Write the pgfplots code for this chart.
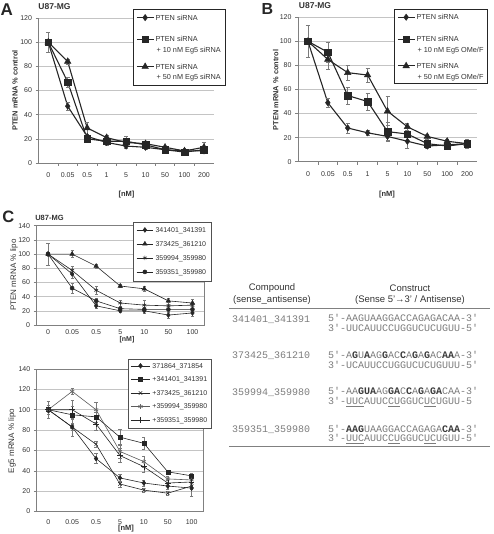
\documentclass[border=0pt]{standalone}
\usepackage{pgfplots}
\pgfplotsset{compat=1.18}
\usepackage{pgfplotstable}
\usepackage{fontspec}
\setmainfont{Liberation Sans}
\newfontfamily\monofont{Liberation Mono}
\definecolor{ln}{HTML}{262626}
\definecolor{grd}{HTML}{C4C4C4}
\definecolor{ax}{HTML}{808080}
\definecolor{txt}{HTML}{333333}
\definecolor{err}{HTML}{7A7A7A}
\definecolor{seq}{HTML}{7C7C7C}
\definecolor{seqb}{HTML}{3A3A3A}

\pgfplotstableread{
x d de s se t te
0 100 8 100 2 100 2
1 47 3 67 4 84 2
2 22 2 20 2 29 5
3 17 2 18 2 21 2
4 14 2 18 4 17 2
5 13 2 15 2 16 2
6 11 1 11 1 13 1
7 10 1 9 1 10 1
8 10 2 11 3 13 4
}\tabA

\pgfplotstableread{
x d de s se t te
0 100 13 100 2 100 2
1 49 4 91 8 85 8
2 28 4 55 7 74 6
3 24 2 50 7 72 6
4 21 3 25 8 42 12
5 17 6 23 5 29 3
6 13 2 15 3 21 2
7 14 2 13 2 17 2
8 15 3 15 3 15 4
}\tabB

\pgfplotstableread{
x a ae b be c ce e ee
0 100 15 100 2 100 2 100 2
1 72 6 100 5 77 6 52 7
2 27 4 83 3 49 5 34 4
3 20 2 55 2 31 4 23 2
4 20 3 51 4 28 7 22 3
5 14 4 34 4 27 5 22 2
6 17 4 31 5 28 4 22 4
}\tabCt

\pgfplotstableread{
x a ae b be c ce d de e ee
0 100 4 100 2 100 2 100 8 100 2
1 83 9 95 8 83 3 118 3 100 9
2 52 5 93 5 66 3 100 7 86 6
3 33 4 73 8 27 3 59 7 55 7
4 28 3 67 6 21 2 49 5 44 5
5 25 3 39 2 18 2 32 3 28 3
6 23 8 35 3 25 3 31 5 29 5
}\tabCb

\tikzset{
  lgA/.style={inner xsep=1pt, inner ysep=0pt, text height=9pt},
  lgB/.style={inner xsep=1pt, inner ysep=0pt, text height=8.6pt},
}

\pgfplotsset{
  ABaxis/.style={
    scale only axis, anchor=south west,
    xmin=-0.5, xmax=8.5, ymin=0, ymax=120,
    xtick={0,...,8}, xticklabels={0,0.05,0.5,1,5,10,50,100,200},
    minor xtick={0.5,1.5,...,7.5},
    ytick={0,20,...,120},
    axis lines*=left,
    axis line style={draw=ax, line width=0.7pt},
    ymajorgrids, grid style={draw=grd, line width=0.5pt},
    tick align=outside, major tick length=3pt, minor tick length=3pt,
    tick style={draw=ax, line width=0.6pt},
    major x tick style={draw=none},
    ticklabel style={font=\fontsize{7}{8}\selectfont, text=txt},
    /pgf/number format/assume math mode=true,
    xticklabel style={yshift=-3pt},
    error bars/error bar style={draw=err, line width=0.5pt},
    error bars/error mark options={rotate=90, mark size=2pt, draw=err, line width=0.5pt},
    legend style={anchor=north west, draw=ln, line width=0.5pt, fill=white,
      inner xsep=3pt, inner ysep=2pt, font=\fontsize{7.3}{10.7}\selectfont, text=txt,
      row sep=0pt, cells={anchor=base west, inner xsep=1pt, inner ysep=0pt},
      /tikz/every odd column/.append style={column sep=0.5pt}},
    legend image code/.code={\draw[mark repeat=2,mark phase=2,##1] plot coordinates {(0pt,2.6pt) (8.35pt,2.6pt) (16.7pt,2.6pt)};},
  },
  Caxis/.style={
    scale only axis, anchor=south west,
    xmin=-0.5, xmax=6.5, ymin=0, ymax=140,
    xtick={0,...,6}, xticklabels={0,0.05,0.5,5,10,50,100},
    ytick={0,20,...,140},
    axis line style={draw=ax, line width=0.6pt},
    ymajorgrids, grid style={draw=grd, line width=0.5pt},
    tick pos=left, tick align=outside, major tick length=2.5pt,
    tick style={draw=ax, line width=0.5pt},
    xtick style={draw=none},
    ticklabel style={font=\fontsize{7}{8}\selectfont, text=txt},
    /pgf/number format/assume math mode=true,
    error bars/error bar style={draw=err, line width=0.4pt},
    error bars/error mark options={rotate=90, mark size=1.6pt, draw=err, line width=0.4pt},
    legend style={anchor=north west, draw=ln!80, line width=0.5pt, fill=white,
      inner xsep=2.7pt, inner ysep=3pt, font=\fontsize{7}{8}\selectfont, text=txt,
      row sep=3.6pt, cells={anchor=base west, inner xsep=0.5pt, inner ysep=0pt},
      /tikz/every odd column/.append style={column sep=0pt}},
    legend image code/.code={\draw[mark repeat=2,mark phase=2,##1] plot coordinates {(0pt,2.5pt) (8.35pt,2.5pt) (16.7pt,2.5pt)};},
  },
  sD/.style={draw=ln, line width=1.1pt, mark=diamond*, mark size=3.2pt, mark options={solid, fill=ln, draw=ln, line width=0.4pt}},
  sS/.style={draw=ln, line width=1.1pt, mark=square*, mark size=3.3pt, mark options={solid, fill=ln, draw=ln, line width=0.4pt}},
  sT/.style={draw=ln, line width=1.1pt, mark=triangle*, mark size=3.8pt, mark options={solid, fill=ln, draw=ln, line width=0.4pt}},
  cline/.style={draw=ln, line width=0.6pt, mark options={solid, fill=ln, draw=ln, line width=0.5pt}},
}

\newcommand{\B}[1]{{\bfseries\color{seqb}#1}}
\newcommand{\U}[1]{\underline{#1}}
% two-line legend entry text: first line, second line (second line hangs below)
\newcommand{\twoline}[2]{\rlap{#1}\raisebox{-10.7pt}{\hspace{1pt}#2}}

\begin{document}
\begin{tikzpicture}
\useasboundingbox (0pt,0pt) rectangle (493pt,-534pt);

% ---------------- Panel A ----------------
\begin{axis}[ABaxis, at={(38.5pt,-163pt)}, width=175.2pt, height=145pt,
  legend style={at={(0.5394,1.0621)}}]
\addplot[sD, error bars/.cd, y dir=both, y explicit] table[x=x, y=d, y error=de] {\tabA};
\addlegendentry[lgA, text depth=12.6pt]{PTEN siRNA}
\addplot[sS, error bars/.cd, y dir=both, y explicit] table[x=x, y=s, y error=se] {\tabA};
\addlegendentry[lgA, text depth=18.4pt]{\twoline{PTEN siRNA}{+ 10 nM Eg5 siRNA}}
\addplot[sT, error bars/.cd, y dir=both, y explicit] table[x=x, y=t, y error=te] {\tabA};
\addlegendentry[lgA, text depth=13.7pt]{\twoline{PTEN siRNA}{+ 50 nM Eg5 siRNA}}
\end{axis}

% ---------------- Panel B ----------------
\begin{axis}[ABaxis, at={(298pt,-161.7pt)}, width=179pt, height=144.4pt,
  legend style={at={(0.5363,1.0575)}}]
\addplot[sD, error bars/.cd, y dir=both, y explicit] table[x=x, y=d, y error=de] {\tabB};
\addlegendentry[lgB, text depth=13.4pt]{PTEN siRNA}
\addplot[sS, error bars/.cd, y dir=both, y explicit] table[x=x, y=s, y error=se] {\tabB};
\addlegendentry[lgB, text depth=18.1pt]{\twoline{PTEN siRNA}{+ 10 nM Eg5 OMe/F}}
\addplot[sT, error bars/.cd, y dir=both, y explicit] table[x=x, y=t, y error=te] {\tabB};
\addlegendentry[lgB, text depth=12.4pt]{\twoline{PTEN siRNA}{+ 50 nM Eg5 OMe/F}}
\end{axis}

% ---------------- Panel C top ----------------
\begin{axis}[Caxis, at={(36pt,-325pt)}, width=168.5pt, height=99.3pt,
  xticklabel style={yshift=1.5pt},
  legend style={at={(0.5774,1.0342)}}]
\addplot[cline, mark=diamond*, mark size=2.4pt, error bars/.cd, y dir=both, y explicit] table[x=x, y=a, y error=ae] {\tabCt};
\addlegendentry{341401\_341391}
\addplot[cline, mark=triangle*, mark size=2.6pt, error bars/.cd, y dir=both, y explicit] table[x=x, y=b, y error=be] {\tabCt};
\addlegendentry{373425\_361210}
\addplot[cline, mark=asterisk, mark size=2.3pt, error bars/.cd, y dir=both, y explicit] table[x=x, y=c, y error=ce] {\tabCt};
\addlegendentry{359994\_359980}
\addplot[cline, mark=*, mark size=2pt, error bars/.cd, y dir=both, y explicit] table[x=x, y=e, y error=ee] {\tabCt};
\addlegendentry{359351\_359980}
\end{axis}

% ---------------- Panel C bottom ----------------
\begin{axis}[Caxis, at={(36.3pt,-511.5pt)}, width=167.3pt, height=142.5pt,
  xticklabel style={yshift=-2pt},
  legend style={at={(0.55,1.070)}, inner xsep=2pt, inner ysep=2.2pt, row sep=3.15pt},
  legend image code/.code={\draw[mark repeat=2,mark phase=2,#1] plot coordinates {(0pt,2.5pt) (9.65pt,2.5pt) (19.3pt,2.5pt)};}]
\addplot[cline, mark=diamond*, mark size=2.4pt, error bars/.cd, y dir=both, y explicit] table[x=x, y=a, y error=ae] {\tabCb};
\addlegendentry{371864\_371854}
\addplot[cline, mark=square*, mark size=2pt, error bars/.cd, y dir=both, y explicit] table[x=x, y=b, y error=be] {\tabCb};
\addlegendentry{+341401\_341391}
\addplot[cline, mark=x, mark size=2.4pt, error bars/.cd, y dir=both, y explicit] table[x=x, y=c, y error=ce] {\tabCb};
\addlegendentry{+373425\_361210}
\addplot[cline, draw=ln!75, mark=asterisk, mark size=2.4pt, mark options={draw=ln!70}, error bars/.cd, y dir=both, y explicit] table[x=x, y=d, y error=de] {\tabCb};
\addlegendentry{+359994\_359980}
\addplot[cline, mark=+, mark size=2.8pt, error bars/.cd, y dir=both, y explicit] table[x=x, y=e, y error=ee] {\tabCb};
\addlegendentry{+359351\_359980}
\end{axis}

% ---------------- Titles and labels ----------------
\node[font=\bfseries\fontsize{17}{17}\selectfont, text=ln] at (6.7pt,-9.7pt) {A};
\node[font=\bfseries\fontsize{16}{16}\selectfont, text=ln] at (267.5pt,-9.5pt) {B};
\node[font=\bfseries\fontsize{16.5}{16}\selectfont, text=ln] at (8.3pt,-216.7pt) {C};
\node[font=\bfseries\fontsize{8.5}{9}\selectfont, text=txt] at (54.5pt,-6.3pt) {U87-MG};
\node[font=\bfseries\fontsize{8.5}{9}\selectfont, text=txt] at (315pt,-6pt) {U87-MG};
\node[font=\bfseries\fontsize{7.5}{8}\selectfont, text=txt] at (49.5pt,-218pt) {U87-MG};

\node[rotate=90, font=\bfseries\fontsize{7.4}{8}\selectfont, text=txt] at (15pt,-90.5pt) {PTEN mRNA \% control};
\node[rotate=90, font=\bfseries\fontsize{7.4}{8}\selectfont, text=txt] at (275.7pt,-90pt) {PTEN mRNA \% control};
\node[rotate=90, font=\fontsize{8}{9}\selectfont, text=txt] at (14pt,-275pt) {PTEN mRNA \% lipo};
\node[rotate=90, font=\fontsize{8}{9}\selectfont, text=txt] at (12pt,-441pt) {Eg5 mRNA \% lipo};

\node[font=\bfseries\fontsize{7.5}{8}\selectfont, text=txt] at (126.5pt,-195pt) {[nM]};
\node[font=\bfseries\fontsize{7.5}{8}\selectfont, text=txt] at (387pt,-195pt) {[nM]};
\node[font=\bfseries\fontsize{7}{8}\selectfont, text=txt, inner sep=0.5pt] at (127pt,-339.5pt) {[nM]};
\node[font=\bfseries\fontsize{7.5}{8}\selectfont, text=txt] at (126pt,-528.5pt) {[nM]};

% ---------------- Table ----------------
\node[font=\fontsize{9.5}{11}\selectfont, text=txt] at (272pt,-288.5pt) {Compound};
\node[font=\fontsize{9.5}{11}\selectfont, text=txt] at (272pt,-300pt) {(sense\_antisense)};
\node[font=\fontsize{9.5}{11}\selectfont, text=txt] at (410pt,-288.5pt) {Construct};
\node[font=\fontsize{9.5}{11}\selectfont, text=txt] at (410pt,-300pt) {(Sense 5'→3' / Antisense)};
\draw[ax, line width=0.8pt] (229pt,-308.3pt) -- (490pt,-308.3pt);
\draw[ax, line width=0.8pt] (229pt,-446.7pt) -- (490pt,-446.7pt);

\begin{scope}[every node/.style={anchor=base west, inner sep=0pt, font=\monofont\fontsize{10}{12}\selectfont, text=seq}]
\node at (232pt,-322.5pt) {341401\_341391};
\node at (232pt,-358.5pt) {373425\_361210};
\node at (232pt,-395pt) {359994\_359980};
\node at (232pt,-432pt) {359351\_359980};

\node at (328pt,-321pt) {5'-AAGUAAGGACCAGAGACAA-3'};
\node at (328pt,-331.5pt) {3'-UUCAUUCCUGGUCUCUGUU-5'};
\node at (328pt,-358pt) {5'-A\B{G}U\B{A}AG\B{G}AC\B{C}A\B{G}A\B{G}AC\B{AA}A-3'};
\node at (328pt,-368pt) {3'-UCAUUCCUGGUCUCUGUUU-5'};
\node at (328pt,-394.5pt) {5'-AA\B{GUA}AG\B{GA}C\B{C}A\B{G}A\B{GA}CAA-3'};
\node at (328pt,-404.7pt) {3'-\U{UUC}AUUC\U{CU}GGUC\U{UC}UGUU-5};
\node at (328pt,-432pt) {5'-\B{AAG}UAAGGACCAGAGA\B{CAA}-3'};
\node at (328pt,-441.5pt) {3'-\U{UUC}AUUC\U{CU}GGUC\U{UC}UGUU-5'};
\end{scope}
\end{tikzpicture}
\end{document}
